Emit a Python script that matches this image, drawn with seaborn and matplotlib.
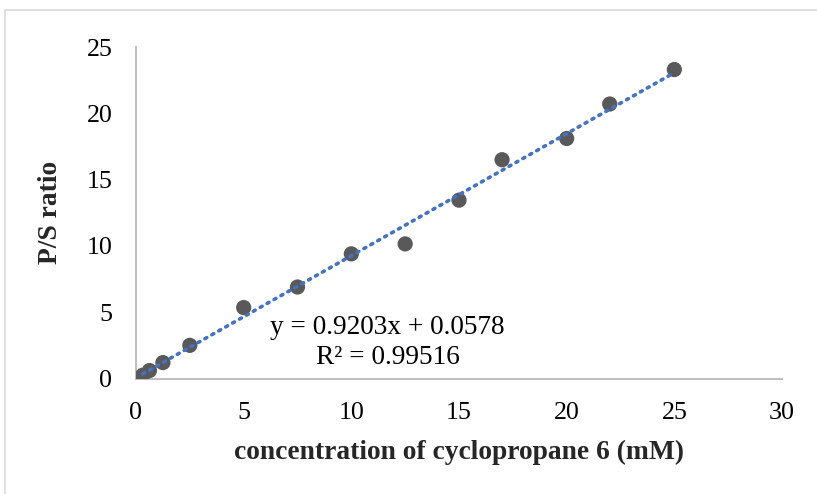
import numpy as np
import pandas as pd
import matplotlib
matplotlib.use("Agg")
import matplotlib.pyplot as plt
from matplotlib.patches import Rectangle
import seaborn as sns

# Data
conc = [0.3125, 0.625, 1.25, 2.5, 5, 7.5, 10, 12.5, 15, 17, 20, 22, 25]
ps_ratio = [0.25, 0.6, 1.2, 2.5, 5.35, 6.9, 9.4, 10.15, 13.45, 16.5, 18.1, 20.7, 23.3]
slope = 0.9203
intercept = 0.0578
r2_text = "0.99516"
x_ticks = [0, 5, 10, 15, 20, 25, 30]
y_ticks = [0, 5, 10, 15, 20, 25]

df = pd.DataFrame({"conc": conc, "ratio": ps_ratio})
trend_x = np.array([min(conc), max(conc)])
trend = pd.DataFrame({"conc": trend_x, "ratio": slope * trend_x + intercept})

sns.set_theme(style="white")
plt.rcParams["font.family"] = ["Liberation Serif", "DejaVu Serif"]

fig = plt.figure(figsize=(8.17, 4.94), dpi=100)
ax = fig.add_axes([136 / 817, (494 - 378.5) / 494, (782 - 136) / 817, (378.5 - 47) / 494])

sns.scatterplot(data=df, x="conc", y="ratio", ax=ax, s=120, color="#595959",
                edgecolor="none", zorder=3, legend=False)
sns.lineplot(data=trend, x="conc", y="ratio", ax=ax, color="#4472C4",
             linestyle=(0, (0.6, 1.6)), linewidth=2.6, zorder=4,
             solid_capstyle="round", dash_capstyle="round", legend=False)

ax.set_xlim(0, 30)
ax.set_ylim(0, 25)
ax.set_xticks(x_ticks)
ax.set_yticks(y_ticks)
ax.tick_params(axis="both", length=0, labelsize=18.7, colors="black", pad=17)
ax.set_xlabel("concentration of cyclopropane 6 (mM)", fontsize=19.8,
              fontweight="bold", labelpad=11)
ax.set_ylabel("P/S ratio", fontsize=19.8, fontweight="bold", labelpad=17)

for side in ["top", "right"]:
    ax.spines[side].set_visible(False)
for side in ["left", "bottom"]:
    ax.spines[side].set_color("#bfbfbf")
    ax.spines[side].set_linewidth(1.5)
ax.grid(False)

ax.text(11.68, 3.81, f"y = {slope}x + {intercept}", fontsize=19.6,
        ha="center", va="center", color="black")
ax.text(11.68, 1.62, f"R² = {r2_text}", fontsize=19.6,
        ha="center", va="center", color="black")

fig.patches.append(Rectangle((5 / 817, -0.1), 1.2, (494 - 10) / 494 + 0.1,
                             transform=fig.transFigure, fill=False,
                             edgecolor="#d9d9d9", linewidth=1.2))

fig.savefig("out.png", dpi=100, facecolor="white")
